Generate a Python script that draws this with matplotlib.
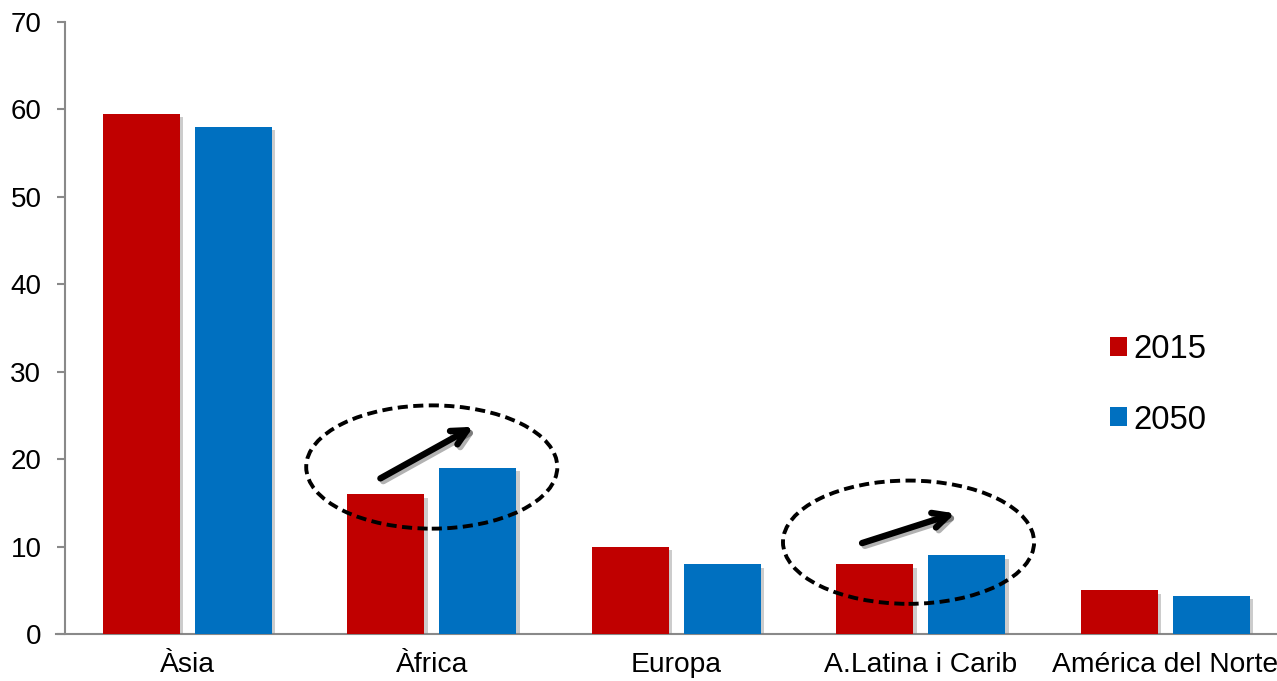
import numpy as np
import matplotlib.pyplot as plt
from matplotlib.patches import Ellipse
import matplotlib.patheffects as pe

plt.rcParams['font.family'] = ['Liberation Sans', 'DejaVu Sans']

regions = ["Àsia", "Àfrica", "Europa", "A.Latina i Carib", "América del Norte"]
vals_2015 = [59.5, 16.0, 10.0, 8.0, 5.0]
vals_2050 = [58.0, 19.0, 8.0, 9.0, 4.4]

# highlighted groups (ellipse centre, arrow start/end)
ell_x = [1.0, 2.95]
ell_y = [19.1, 10.5]
arrow_from = [(0.79, 17.8), (2.76, 10.4)]
arrow_to = [(1.17, 23.7), (3.14, 13.8)]

red = "#C00000"
blue = "#0070C0"
grey = "#898989"

fig = plt.figure(figsize=(12.77, 6.81), dpi=100)
ax = fig.add_axes([0.0509, 0.069, 0.9491, 0.8987])

x = np.arange(len(regions))
w = 0.315
off = 0.188
shadow = [pe.SimplePatchShadow(offset=(2.5, -2.5), shadow_rgbFace="0.5", alpha=0.4), pe.Normal()]

b1 = ax.bar(x - off, vals_2015, w, color=red, label="2015", zorder=3)
b2 = ax.bar(x + off, vals_2050, w, color=blue, label="2050", zorder=3)
for b in list(b1) + list(b2):
    b.set_path_effects(shadow)

ax.set_xlim(-0.5, 4.457)
ax.set_ylim(0, 70)
ax.set_yticks(range(0, 71, 10))
ax.set_xticks(x)
ax.set_xticklabels(regions)

for s in ["top", "right"]:
    ax.spines[s].set_visible(False)
for s in ["left", "bottom"]:
    ax.spines[s].set_color(grey)
    ax.spines[s].set_linewidth(1.5)
ax.spines["bottom"].set_bounds(-0.535, 4.457)

ax.tick_params(axis="y", length=6, width=1.5, color=grey, labelsize=20, pad=11)
ax.tick_params(axis="x", length=0, labelsize=20.3, pad=13)

for cx, cy, p0, p1 in zip(ell_x, ell_y, arrow_from, arrow_to):
    e = Ellipse((cx, cy), 1.027, 14.1, fill=False, edgecolor="black",
                linestyle=(0, (2.6, 1.4)), linewidth=2.8, zorder=5)
    ax.add_patch(e)
    ax.annotate("", xy=p1, xytext=p0,
                arrowprops=dict(arrowstyle="->,head_length=1.1,head_width=0.55",
                                color="black", lw=4.6, shrinkA=0, shrinkB=0,
                                path_effects=[pe.SimpleLineShadow(offset=(2, -2), alpha=0.3), pe.Normal()]),
                zorder=6)

leg = fig.legend(loc="center left", bbox_to_anchor=(0.869, 0.435), frameon=False,
                 fontsize=23.7, handlelength=0.52, handleheight=0.52, handletextpad=0.2,
                 labelspacing=1.2, borderpad=0, borderaxespad=0)
for h in leg.legend_handles:
    h.set_path_effects([])

fig.savefig("out.png", dpi=100)
